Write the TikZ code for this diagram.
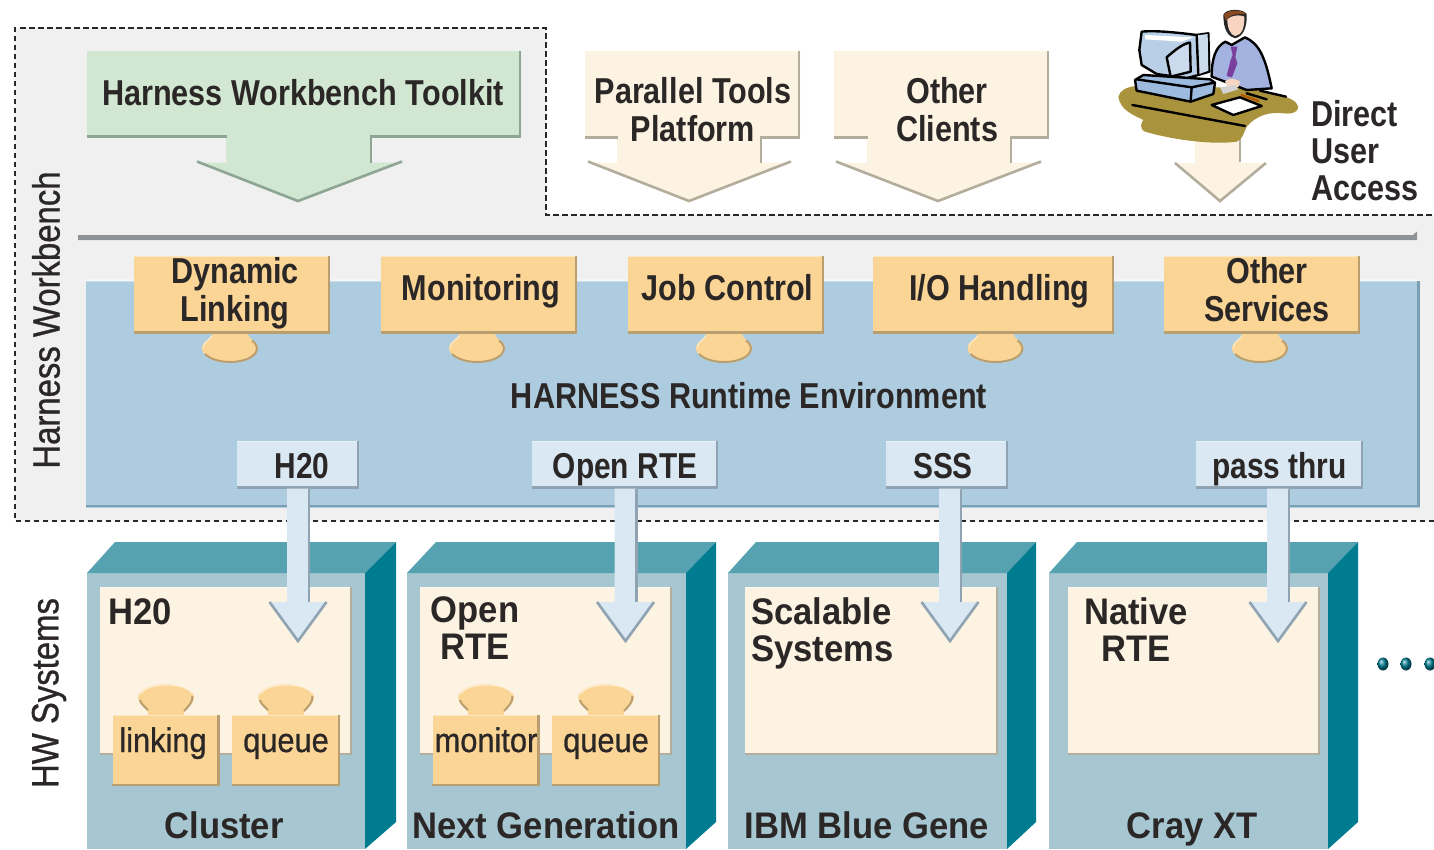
\documentclass[tikz,border=0pt]{standalone}
\usepackage{fontspec}
\setmainfont{Liberation Sans}
\newfontfamily\narb[FakeStretch=0.85]{Liberation Sans}
\newfontfamily\nara[FakeStretch=0.83]{Liberation Sans}
\newfontfamily\narw[FakeStretch=0.935]{Liberation Sans}
\newfontfamily\narr[FakeStretch=0.905,FakeBold=0.8]{Liberation Sans}
\newfontfamily\vertf[FakeStretch=0.865,FakeBold=0.8]{Liberation Sans}
\usetikzlibrary{calc}
\definecolor{wbgray}{HTML}{F0F0F0}
\definecolor{greenf}{HTML}{D2E7D1}
\definecolor{greene}{HTML}{8FA593}
\definecolor{creamf}{HTML}{FDF3E2}
\definecolor{creame}{HTML}{B3AD9E}
\definecolor{bluef}{HTML}{AECCDF}
\definecolor{bluee}{HTML}{7D9FB3}
\definecolor{orf}{HTML}{FBD595}
\definecolor{ore}{HTML}{B99F70}
\definecolor{lbf}{HTML}{D9E8F2}
\definecolor{lbe}{HTML}{8FA3B2}
\definecolor{sysf}{HTML}{A6C7D1}
\definecolor{syst}{HTML}{56A2B1}
\definecolor{syss}{HTML}{007C91}
\definecolor{ink}{HTML}{2B2727}
\definecolor{deskc}{HTML}{A9933C}
\definecolor{barc}{HTML}{8E9398}
\definecolor{suit}{HTML}{A3B2DE}
\definecolor{skin}{HTML}{F8D5C0}
\definecolor{hair}{HTML}{8A4A22}
\definecolor{tie}{HTML}{7A3E9D}
\definecolor{monc}{HTML}{B9CFE8}
\definecolor{monp}{HTML}{CBDAEC}
\definecolor{monb}{HTML}{9DBBDF}
\newcommand\st{\rule[-11.1pt]{0pt}{37pt}}
\newcommand\lift[2]{\raisebox{#1}[0pt][0pt]{#2}}
\newcommand\hs[1]{\hspace*{#1}}
\tikzset{
  bigtxt/.style={font=\narb\bfseries\fontsize{36}{37}\selectfont,text=ink,align=center,inner sep=0pt},
  adapttxt/.style={font=\nara\bfseries\fontsize{36}{37}\selectfont,text=ink,align=center,inner sep=0pt},
  widetxt/.style={font=\narw\bfseries\fontsize{37}{37}\selectfont,text=ink,align=center,inner sep=0pt},
  smalltxt/.style={font=\narr\fontsize{34}{37}\selectfont,text=ink,align=center,inner sep=0pt},
  sidelabel/.style={font=\vertf\fontsize{38}{38}\selectfont,text=ink,rotate=90,inner sep=0pt},
  orangebox/.style={fill=orf,bigtxt},
  tinybox/.style={fill=orf,smalltxt},
  lightbox/.style={fill=lbf,adapttxt},
  creambox/.style={fill=creamf,inner sep=0pt},
  bevel/.style={line width=2.6pt,line cap=butt,line join=miter},
  clipline/.style={draw=black,line width=2.4pt,line cap=round,line join=round},
}
% box: style, name, x1,y1,x2,y2, text, edge colour
\newcommand\bbox[8]{%
  \node[#1,minimum width={(#5-#3)*1pt},minimum height={(#6-#4)*1pt}] (#2) at ({(#3+#5)/2},{(#4+#6)/2}) {#7};
  \draw[bevel,draw=#8] ([xshift=-1.3pt]#2.north east) -- ([xshift=-1.3pt,yshift=1.3pt]#2.south east) -- ([yshift=1.3pt]#2.south west);
  \draw[line width=1.5pt,draw=white,opacity=.45] ([yshift=-.8pt]#2.north west) -- ([yshift=-.8pt,xshift=-2.6pt]#2.north east);
}
% puzzle knob hanging from a box: centre x, base y
\newcommand\knobdown[2]{%
  \begin{scope}[shift={(#1,#2)}]
    \fill[orf] (-18,-2) -- (-18,1) .. controls (-18,3) and (-20,5) .. (-22,6.5) .. controls (-26,9) and (-28,12) .. (-28,15) .. controls (-28,24) and (-14,30) .. (0,30) .. controls (14,30) and (28,24) .. (28,15) .. controls (28,12) and (26,9) .. (22,6.5) .. controls (20,5) and (18,3) .. (18,1) -- (18,-2) -- cycle;
    \draw[line width=2pt,draw=ore] (-25,21) .. controls (-21,25) and (-12,29) .. (0,29) .. controls (14,29) and (27,24) .. (27,15) .. controls (27,12) and (25,10) .. (22,7.5);
    \draw[line width=1.2pt,draw=white,opacity=.5] (-18,3) .. controls (-20,6) and (-26.5,9) .. (-26.5,15);
  \end{scope}
}
% puzzle knob standing on a box: centre x, base y
\newcommand\knobup[2]{%
  \begin{scope}[shift={(#1,#2)}]
    \fill[orf] (-18,2) -- (-18,-2) .. controls (-18,-4) and (-20,-7) .. (-23,-8.5) .. controls (-26,-11) and (-28,-14) .. (-28,-17) .. controls (-28,-26) and (-14,-31) .. (0,-31) .. controls (14,-31) and (28,-26) .. (28,-17) .. controls (28,-14) and (26,-11) .. (23,-8.5) .. controls (20,-7) and (18,-4) .. (18,-2) -- (18,2) -- cycle;
    \draw[line width=2pt,draw=ore] (-26,-15) .. controls (-25,-11) and (-21,-8) .. (-18,-5);
    \draw[line width=2pt,draw=ore] (26.5,-19) .. controls (27,-13) and (22,-8) .. (18,-4);
    \draw[line width=1.3pt,draw=white,opacity=.6] (-26,-21) .. controls (-20,-29) and (-8,-30) .. (0,-30) .. controls (10,-30) and (20,-29) .. (26,-22);
  \end{scope}
}
% large block arrow: L,T,R,B / shaft L,R / head L,R / tip x; shoulder y=162.5, tip y=203
\newcommand\blockarrow[9]{%
  \fill[#9] (#1,#2) -- (#3,#2) -- (#3,#4) -- (#6,#4) -- (#6,162.5) -- (#8,162.5)
     -- (\tipx,202.5) -- (#7,162.5) -- (#5,162.5) -- (#5,#4) -- (#1,#4) -- cycle;
  \draw[bevel,draw=\edgecol] (#3-1,#2) -- (#3-1,#4-1) -- (#6+1,#4-1) -- (#6+1,162.5);
  \draw[bevel,draw=\edgecol] (#1,#4-1) -- (#5+1,#4-1);
  \draw[bevel,draw=\edgecol] (#8,161.5) -- (\tipx,201) -- (#7,161.5);
}
% connector arrow from a box down to a tip coordinate
\newcommand\dnarrow[2]{%
  \fill[lbf] ([xshift=-11pt]#2 |- #1.south) -- ([xshift=11pt]#2 |- #1.south) -- ([xshift=11pt,yshift=40pt]#2) -- ([xshift=28.5pt,yshift=40pt]#2)
     -- (#2) -- ([xshift=-28.5pt,yshift=40pt]#2) -- ([xshift=-11pt,yshift=40pt]#2) -- cycle;
  \draw[bevel,draw=lbe] ([xshift=11pt]#2 |- #1.south) -- ([xshift=11pt,yshift=40pt]#2);
  \draw[bevel,draw=lbe] ([xshift=28.5pt,yshift=40pt]#2) -- ([yshift=1pt]#2) -- ([xshift=-28.5pt,yshift=40pt]#2);
}
% 3-D system box: left, right, top-left x, top-right x
\newcommand\sysbox[4]{%
  \fill[sysf] (#1,573) rectangle (#2,849);
  \fill[syst] (#1,573) -- (#3,542) -- (#4,542) -- (#2,573) -- cycle;
  \fill[syss] (#2,573) -- (#4,542) -- (#4,822) -- (#2,849) -- cycle;
}
\begin{document}
\begin{tikzpicture}[x=1pt,y=-1pt]
\useasboundingbox (0,0) rectangle (1434,849);
% workbench region
\fill[wbgray] (15,28) -- (546,28) -- (546,215) -- (1434,215) -- (1434,521) -- (15,521) -- cycle;
\draw[line width=2.3pt,dash pattern=on 5.5pt off 3.5pt,draw=ink] (1434,521) -- (15,521) -- (15,28) -- (546,28) -- (546,215) -- (1434,215);
% top arrows
\def\edgecol{greene}\def\tipx{298}
\blockarrow{87}{51}{521}{137.5}{226}{370}{197}{402}{greenf}
\node[bigtxt,anchor=base] (hwt) at (303,105) {Harness Workbench Toolkit};
\def\edgecol{creame}\def\tipx{689}
\blockarrow{585}{51}{800}{138.5}{617}{760}{588}{791}{creamf}
\node[bigtxt] (ptp) at (693,114.6) {Parallel Tools\st\\Platform\st};
\def\tipx{938}
\blockarrow{834}{51}{1049}{138.5}{867}{1010}{836}{1041}{creamf}
\node[bigtxt] (ocl) at (947,114.6) {Other\st\\Clients\st};
% direct user arrow
\fill[creamf] (1195,130) -- (1241,130) -- (1241,163) -- (1266,163) -- (1220,203) -- (1175,163) -- (1195,163) -- cycle;
\draw[bevel,draw=creame] (1240,130) -- (1240,162);
\draw[bevel,draw=creame] (1266,163) -- (1220,201) -- (1175,163);
% clip art
\begin{scope}[shift={(1100,0)},x=0.3333pt,y=-0.3333pt]
  \fill[deskc] (55,290) .. controls (60,270) and (80,262) .. (105,258) -- (340,262) -- (470,265) .. controls (520,285) and (560,285) .. (585,305) .. controls (605,325) and (590,345) .. (550,340) .. controls (510,335) and (470,345) .. (440,380) .. controls (430,400) and (430,415) .. (410,425) .. controls (340,435) and (220,420) .. (135,395) .. controls (115,385) and (125,365) .. (130,360) .. controls (100,345) and (60,330) .. (55,290) -- cycle;
  % person
  \fill[black!85] (370,45) .. controls (375,25) and (430,25) .. (440,42) .. controls (442,80) and (430,110) .. (405,115) .. controls (385,110) and (370,90) .. (370,45) -- cycle;
  \fill[hair] (372,45) .. controls (378,28) and (430,28) .. (438,42) .. controls (420,42) and (400,40) .. (385,52) -- (378,62) -- cycle;
  \fill[skin] (382,58) .. controls (400,42) and (425,45) .. (433,50) .. controls (434,85) and (425,105) .. (405,108) .. controls (392,105) and (382,85) .. (382,58) -- cycle;
  \draw[clipline,fill=suit] (376,125) -- (395,135) -- (435,112) .. controls (475,130) and (495,165) .. (515,265) -- (440,270) -- (375,245) -- (335,230) .. controls (335,180) and (345,140) .. (376,125) -- cycle;
  \fill[tie] (392,140) -- (412,140) -- (406,170) -- (412,190) -- (396,232) -- (380,228) -- (392,180) -- (398,165) -- cycle;
  \fill[skin] (375,245) .. controls (385,235) and (400,232) .. (420,245) -- (415,262) -- (385,262) -- cycle;
  % monitor
  \draw[clipline,fill=monc] (125,95) .. controls (170,90) and (250,100) .. (290,105) -- (325,100) -- (328,215) -- (260,235) -- (170,222) -- (125,195) -- (118,150) -- cycle;
  \fill[white] (135,105) -- (280,112) -- (245,125) -- (135,118) -- cycle;
  \fill[monp] (290,106) -- (323,102) -- (325,212) -- (290,225) -- cycle;
  \draw[clipline] (290,105) -- (295,225);
  \fill[monp] (200,172) .. controls (225,150) and (250,130) .. (270,128) -- (272,215) -- (212,230) -- cycle;
  \draw[clipline] (200,172) .. controls (225,150) and (250,130) .. (270,128) -- (272,215) -- (212,230) -- cycle;
  % base unit
  \draw[clipline,fill=monb] (105,240) -- (130,225) -- (330,238) -- (345,248) -- (340,282) -- (272,305) -- (110,272) -- cycle;
  \draw[clipline] (110,238) -- (275,262) -- (342,248);
  \draw[clipline] (275,262) -- (272,303);
  % desk items
  \draw[clipline] (97,315) -- (435,378);
  \draw[clipline,fill=white] (335,315) -- (420,292) -- (485,318) -- (400,345) -- cycle;
  \draw[clipline] (480,272) -- (558,290);
  \draw[clipline,draw=orange!70!black] (425,285) -- (475,303);
  \draw[clipline] (440,280) -- (500,298);
  \fill[gray!35!white] (360,262) -- (405,255) -- (415,268) -- (370,282) -- cycle;
\end{scope}
\node[bigtxt,align=left,anchor=west] (dua) at (1311,155.6) {Direct\st\\User\st\\Access\st};
% bar
\fill[barc] (78,235) -- (1413,235) -- (1417,231.5) -- (1417,240) -- (78,240) -- cycle;
% runtime panel
\fill[bluef] (86,281) rectangle (1419.5,507.5);
\fill[white,opacity=.35] (86,279) rectangle (1419.5,281.5);
\draw[bevel,draw=bluee] (1418.5,281) -- (1418.5,506) -- (86,506);
\node[bigtxt,anchor=base] (hre) at (749,408) {HARNESS Runtime Environment};
% services
\foreach \c in {230,477,724,995.5,1260}{\knobdown{\c}{333}}
\bbox{orangebox}{dyn}{134}{256}{330}{333.5}{\hs{6pt}Dynamic\st\\\hs{6pt}Linking\st}{ore}
\bbox{orangebox}{mon}{381}{256}{577}{333.5}{\hs{4pt}\lift{-5.25pt}{Monitoring}}{ore}
\bbox{orangebox}{job}{628}{256}{824}{333.5}{\hs{3pt}\lift{-5.25pt}{Job Control}}{ore}
\bbox{orangebox}{iohd}{873}{256}{1114}{333.5}{\hs{12pt}\lift{-5.25pt}{I/O Handling}}{ore}
\bbox{orangebox}{osv}{1164}{256}{1360}{333.5}{\hs{10pt}Other\st\\\hs{10pt}Services\st}{ore}
% systems
\sysbox{87}{365}{115}{396}
\sysbox{407}{686}{436}{716}
\sysbox{728}{1007}{756}{1036}
\sysbox{1049}{1328}{1077}{1358}
\bbox{creambox}{in1}{100}{587}{352}{755}{}{creame}
\bbox{creambox}{in2}{420}{587}{672}{755}{}{creame}
\bbox{creambox}{in3}{745}{587}{998}{755}{}{creame}
\bbox{creambox}{in4}{1068}{587}{1320}{755}{}{creame}
% inner labels
\node[widetxt,anchor=base] (l1) at (140.5,624) {H20};
\node[widetxt] (l2) at (475,633.1) {Open\st\\RTE\st};
\node[widetxt,align=left,anchor=west] (l3) at (751,635.1) {Scalable\st\\Systems\st};
\node[widetxt] (l4) at (1136,635.1) {Native\st\\RTE\st};
% system names
\node[widetxt,anchor=base] (s1) at (224,838) {Cluster};
\node[widetxt,anchor=base] (s2) at (546,838) {Next Generation};
\node[widetxt,anchor=base] (s3) at (867,838) {IBM Blue Gene};
\node[widetxt,anchor=base] (s4) at (1192,838) {Cray XT};
% small puzzles
\foreach \c in {166,286,486,606}{\knobup{\c}{715}}
\bbox{tinybox}{t1}{112.5}{715}{219.5}{786}{\lift{-1.5pt}{linking}\hs{6pt}}{ore}
\bbox{tinybox}{t2}{232}{715}{340}{786}{\lift{-1.5pt}{queue}}{ore}
\bbox{tinybox}{t3}{432.5}{715}{539.5}{786}{\lift{-1.5pt}{monitor}}{ore}
\bbox{tinybox}{t4}{552}{715}{660}{786}{\lift{-1.5pt}{queue}}{ore}
% adapters and connectors
\bbox{lightbox}{a1}{237}{441}{359}{488.5}{\hs{8pt}\lift{-13.25pt}{H20}}{lbe}
\bbox{lightbox}{a2}{532}{441}{718}{488.5}{\lift{-13.25pt}{Open RTE}}{lbe}
\bbox{lightbox}{a3}{886}{441}{1008}{488.5}{\lift{-13.25pt}{SSS}\hs{8pt}}{lbe}
\bbox{lightbox}{a4}{1196}{441}{1363}{488.5}{\lift{-13.25pt}{pass thru}}{lbe}
\coordinate (tip1) at (298,642);
\coordinate (tip2) at (625.5,642);
\coordinate (tip3) at (950,642);
\coordinate (tip4) at (1278,642);
\dnarrow{a1}{tip1}
\dnarrow{a2}{tip2}
\dnarrow{a3}{tip3}
\dnarrow{a4}{tip4}
% side labels
\node[sidelabel] (hwb) at (46,320) {Harness Workbench};
\node[sidelabel] (hws) at (49,693) {HW Systems};
% dots
\foreach \x in {1383,1406,1430}{\shade[ball color=syss] (\x,664) ellipse (5.5 and 6.5);}
\end{tikzpicture}
\end{document}
